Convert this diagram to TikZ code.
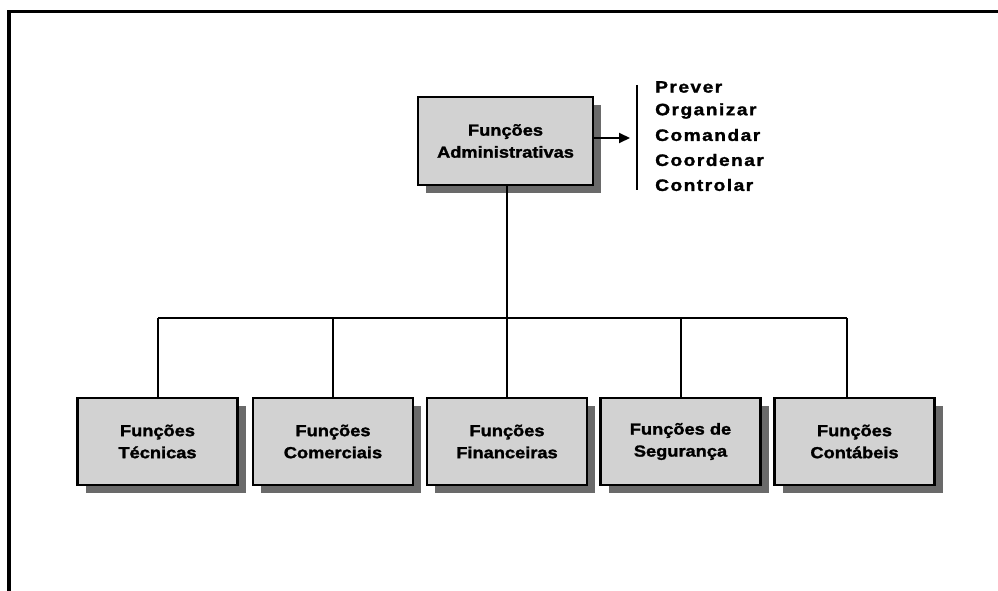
\documentclass[tikz,border=0pt]{standalone}
\usepackage{fontspec}
\newfontfamily\boxfont[FakeStretch=1.14,FakeBold=1.6]{Liberation Sans}
\newfontfamily\listfont[FakeStretch=1.16,FakeBold=1.6,LetterSpace=9]{Liberation Sans}
\usetikzlibrary{arrows.meta,shadows}
\definecolor{boxgray}{HTML}{D2D2D2}
\definecolor{shadowgray}{HTML}{6A6A6A}
\tikzset{
  funcbox/.style={draw=black, line width=2.8pt, fill=boxgray,
    minimum width=#1, minimum height=87pt, align=center,
    font=\boxfont\bfseries\fontsize{16}{22}\selectfont, inner sep=0pt,
    drop shadow={shadow xshift=8pt, shadow yshift=-8pt, fill=shadowgray, opacity=1}},
  funcbox/.default=160pt,
  conn/.style={draw=black, line width=1.9pt},
  listtext/.style={anchor=west, inner sep=0pt, font=\listfont\bfseries\fontsize{16.5}{22}\selectfont}
}
\begin{document}
\begin{tikzpicture}[x=1pt,y=-1pt]
\useasboundingbox (0,0) rectangle (998,591);
% frame
\draw[line width=3.5pt, line cap=rect] (9,591) -- (9,11.5) -- (998,11.5);
% top box
\node[funcbox=175pt, minimum height=88pt] (adm) at (505.5,141) {Funções\\Administrativas};
% arrow and bracket line
\coordinate (arrend) at (630,138);
\draw[conn, -{Triangle[length=11pt,width=10pt]}] (adm.east |- arrend) -- (arrend);
\coordinate (brtop) at (637,85);
\coordinate (brbot) at (637,190);
\draw[conn] (brtop) -- (brbot);
% list
\node[listtext] (l1) at (655,87) {Prever};
\node[listtext] (l2) at (655,111) {Organizar};
\node[listtext] (l3) at (655,135) {Comandar};
\node[listtext] (l4) at (655,160) {Coordenar};
\node[listtext] (l5) at (655,185) {Controlar};
% bottom boxes
\node[funcbox] (b1) at (157.5,441.5) {Funções\\Técnicas};
\node[funcbox] (b2) at (333,441.5) {Funções\\Comerciais};
\node[funcbox] (b3) at (507,441.5) {Funções\\Financeiras};
\node[funcbox] (b4) at (680.5,441.5) {Funções de\\Segurança};
\node[funcbox] (b5) at (854.5,441.5) {Funções\\Contábeis};
% bus
\coordinate (bus) at (507,318);
\coordinate (d1) at (158,318);
\coordinate (d2) at (333,318);
\coordinate (d4) at (681,318);
\coordinate (d5) at (847,318);
\draw[conn] (adm.south -| bus) -- (bus);
\draw[conn] (d1) -- (d5);
\draw[conn] (d1) -- (d1 |- b1.north);
\draw[conn] (d2) -- (d2 |- b2.north);
\draw[conn] (bus) -- (bus |- b3.north);
\draw[conn] (d4) -- (d4 |- b4.north);
\draw[conn] (d5) -- (d5 |- b5.north);
\end{tikzpicture}
\end{document}
